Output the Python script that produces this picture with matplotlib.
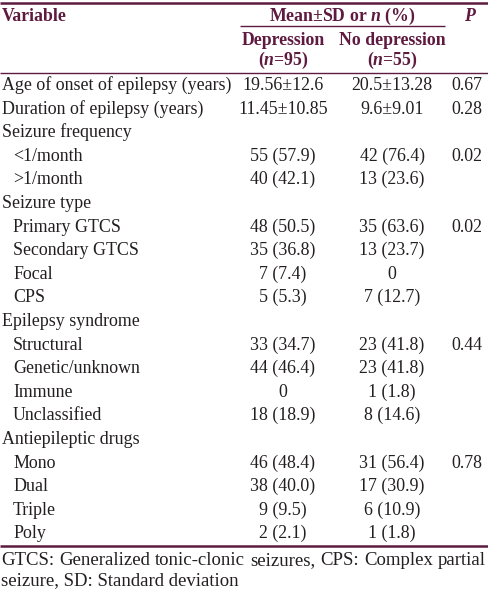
import matplotlib
matplotlib.use("Agg")
import matplotlib.pyplot as plt

# table content
variables = [
    "Age of onset of epilepsy (years)", "Duration of epilepsy (years)",
    "Seizure frequency", "<1/month", ">1/month",
    "Seizure type", "Primary GTCS", "Secondary GTCS", "Focal", "CPS",
    "Epilepsy syndrome", "Structural", "Genetic/unknown", "Immune", "Unclassified",
    "Antiepileptic drugs", "Mono", "Dual", "Triple", "Poly",
]
indented = [False, False, False, True, True, False, True, True, True, True,
            False, True, True, True, True, False, True, True, True, True]
depression = ["19.56±12.6", "11.45±10.85", "", "55 (57.9)", "40 (42.1)",
              "", "48 (50.5)", "35 (36.8)", "7 (7.4)", "5 (5.3)",
              "", "33 (34.7)", "44 (46.4)", "0", "18 (18.9)",
              "", "46 (48.4)", "38 (40.0)", "9 (9.5)", "2 (2.1)"]
no_depression = ["20.5±13.28", "9.6±9.01", "", "42 (76.4)", "13 (23.6)",
                 "", "35 (63.6)", "13 (23.7)", "0", "7 (12.7)",
                 "", "23 (41.8)", "23 (41.8)", "1 (1.8)", "8 (14.6)",
                 "", "31 (56.4)", "17 (30.9)", "6 (10.9)", "1 (1.8)"]
p_values = ["0.67", "0.28", "", "0.02", "", "", "0.02", "", "", "",
            "", "0.44", "", "", "", "", "0.78", "", "", ""]
footnote = ["GTCS: Generalized tonic-clonic seizures, CPS: Complex partial",
            "seizure, SD: Standard deviation"]

W, H = 488, 589
maroon = "#5e1a3f"
ink = "#231f20"
plt.rcParams['font.family'] = ['Liberation Serif', 'DejaVu Serif']
plt.rcParams['mathtext.fontset'] = 'custom'
plt.rcParams['mathtext.rm'] = 'Liberation Serif:bold'
plt.rcParams['mathtext.it'] = 'Liberation Serif:italic:bold'
fs_head = 12.8
fs = 12.9
fs_note = 13.5

fig = plt.figure(figsize=(W / 100, H / 100), dpi=100)
ax = fig.add_axes([0, 0, 1, 1])
ax.set_xlim(0, W)
ax.set_ylim(H, 0)
ax.axis("off")

col_dep, col_nodep, col_p = 283, 392, 467

# rules
ax.plot([0, W], [2.5, 2.5], color=maroon, lw=1.8, solid_capstyle="butt")
ax.plot([240, 445], [26, 26], color=maroon, lw=1.0, solid_capstyle="butt")
ax.plot([0, W], [72.5, 72.5], color=maroon, lw=1.0, solid_capstyle="butt")
ax.plot([0, W], [545.5, 545.5], color=maroon, lw=1.8, solid_capstyle="butt")

# header
hd = dict(color=maroon, fontsize=fs_head, fontweight="bold", va="baseline")
ax.text(2, 21, "Variable", ha="left", **hd)
ax.text((240 + 445) / 2, 21, r"Mean±SD or $n$ (%)", ha="center", **hd)
ax.text(col_p + 3, 21, r"$P$", ha="center", **hd)
ax.text(col_dep, 45, "Depression", ha="center", **hd)
ax.text(col_nodep, 45, "No depression", ha="center", **hd)
ax.text(col_dep, 65, r"($n$=95)", ha="center", **hd)
ax.text(col_nodep, 65, r"($n$=55)", ha="center", **hd)

# body
y0, dy = 90, 23.6
for i, name in enumerate(variables):
    y = y0 + i * dy
    ax.text(13 if indented[i] else 2, y, name, ha="left", va="baseline", color=ink, fontsize=fs)
    ax.text(col_dep, y, depression[i], ha="center", va="baseline", color=ink, fontsize=fs)
    ax.text(col_nodep, y, no_depression[i], ha="center", va="baseline", color=ink, fontsize=fs)
    ax.text(col_p, y, p_values[i], ha="center", va="baseline", color=ink, fontsize=fs)

# footnote, first line justified to full width
fig.canvas.draw()
renderer = fig.canvas.get_renderer()
words = footnote[0].split(" ")
arts = [ax.text(0, 565, w, ha="left", va="baseline", color=ink, fontsize=fs_note) for w in words]
widths = [a.get_window_extent(renderer).width for a in arts]
gap = (W - 3 - sum(widths)) / (len(words) - 1)
x = 1
for a, w in zip(arts, widths):
    a.set_x(x)
    x += w + gap
ax.text(1, 585, footnote[1], ha="left", va="baseline", color=ink, fontsize=fs_note)

fig.savefig("out.png", dpi=100)
